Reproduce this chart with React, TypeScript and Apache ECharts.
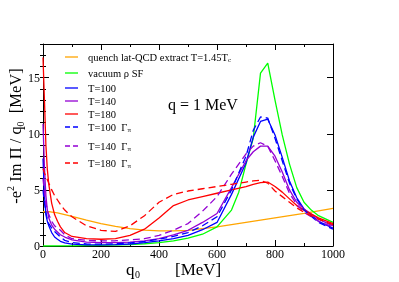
import React, { useEffect, useRef } from "react";
import * as echarts from "echarts";

const FONT = "Liberation Serif";

// q0 grid (MeV) for the medium curves
const qGrid = [0, 5, 10, 15, 20, 30, 40, 50, 60, 75, 100, 150, 200, 250, 300, 350, 400, 450, 500, 550, 600, 650, 700, 725, 750, 775, 800, 825, 850, 875, 900, 950, 1000];

const t100 = [7.8, 4.5, 2.8, 2.2, 1.8, 1.2, 0.8, 0.6, 0.42, 0.28, 0.16, 0.1, 0.1, 0.12, 0.18, 0.3, 0.45, 0.65, 0.95, 1.45, 2.1, 4.6, 7.4, 9.7, 11.1, 11.3, 9.9, 7.9, 5.8, 4.3, 3.3, 2.2, 1.6];
const t140 = [10.9, 7.0, 4.5, 3.2, 2.5, 1.85, 1.5, 1.25, 1.0, 0.8, 0.55, 0.35, 0.3, 0.3, 0.35, 0.45, 0.65, 1.0, 1.4, 2.1, 2.9, 5.2, 7.6, 8.4, 8.9, 8.9, 8.0, 6.6, 5.0, 3.9, 3.3, 2.4, 1.8];
const t180 = [16.8, 13.0, 9.0, 6.8, 5.5, 3.8, 2.8, 2.2, 1.7, 1.2, 0.85, 0.65, 0.6, 0.65, 0.95, 1.5, 2.5, 3.6, 4.1, 4.4, 4.7, 5.0, 5.3, 5.5, 5.65, 5.7, 5.3, 4.8, 4.2, 3.6, 3.2, 2.5, 2.0];
const t100G = [5.0, 3.8, 3.0, 2.4, 2.0, 1.6, 1.3, 1.05, 0.8, 0.5, 0.3, 0.18, 0.16, 0.2, 0.28, 0.4, 0.6, 0.85, 1.2, 1.8, 2.6, 5.0, 8.0, 10.3, 11.5, 11.4, 9.6, 7.6, 5.6, 4.2, 3.2, 2.1, 1.5];
const t140G = [6.0, 4.8, 3.8, 3.2, 2.8, 2.2, 1.8, 1.6, 1.4, 1.0, 0.65, 0.5, 0.45, 0.47, 0.55, 0.65, 0.95, 1.4, 2.0, 3.1, 4.4, 6.4, 8.2, 8.9, 9.2, 8.9, 7.6, 6.2, 4.7, 3.7, 3.0, 2.2, 1.7];
const t180G = [6.9, 6.5, 6.2, 5.9, 5.6, 5.0, 4.5, 4.1, 3.7, 3.2, 2.6, 1.8, 1.4, 1.3, 1.8, 2.7, 3.9, 4.6, 4.9, 5.1, 5.3, 5.5, 5.7, 5.8, 5.85, 5.6, 4.9, 4.4, 3.9, 3.4, 3.0, 2.4, 1.9];

const latX = [0, 25, 50, 100, 150, 200, 250, 300, 350, 400, 450, 500, 600, 700, 800, 900, 1000];
const latY = [3.05, 3.05, 2.95, 2.65, 2.3, 2.0, 1.75, 1.55, 1.42, 1.35, 1.35, 1.4, 1.7, 2.1, 2.5, 2.9, 3.35];

const vacX = [0, 100, 200, 300, 350, 400, 450, 500, 550, 600, 650, 675, 700, 725, 750, 775, 800, 825, 850, 875, 900, 925, 950, 1000];
const vacY = [0, 0.02, 0.05, 0.12, 0.2, 0.3, 0.45, 0.7, 1.05, 1.7, 3.2, 4.8, 7.3, 9.6, 15.4, 16.3, 13.0, 9.9, 7.3, 5.2, 3.9, 3.2, 2.7, 2.1];

const xTicks = { min: 0, max: 1000, interval: 200 };
const yTicks = { min: 0, max: 18, interval: 5, minorInterval: 1 };

const legendLabels = [
  "quench lat-QCD extract T=1.45T{sub|c}",
  "vacuum ρ SF",
  "T=100",
  "T=140",
  "T=180",
  "T=100  Γ{sub|π}",
  "T=140  Γ{sub|π}",
  "T=180  Γ{sub|π}",
];
const seriesNames = [
  "quench lat-QCD extract T=1.45Tc",
  "vacuum ρ SF",
  "T=100",
  "T=140",
  "T=180",
  "T=100 Γπ",
  "T=140 Γπ",
  "T=180 Γπ",
];
const legendY = [57, 73, 88, 101, 114, 127, 146, 163];

const ORANGE = "#FFA500";
const GREEN = "#00FF00";
const BLUE = "#0000FF";
const VIOLET = "#9400D3";
const RED = "#FF0000";

function zip(xs: number[], ys: number[]) {
  return xs.map((x, i) => [x, ys[i]]);
}

export default function App() {
  const ref = useRef<HTMLDivElement>(null);
  useEffect(() => {
    if (!ref.current) return;
    const chart = echarts.init(ref.current, undefined, { renderer: "svg" });
    const lw = 1.3;
    const DASH = [7, 4];
    const colors = [ORANGE, GREEN, BLUE, VIOLET, RED, BLUE, VIOLET, RED];
    const dashed = [false, false, false, false, false, true, true, true];
    const dataSets = [
      zip(latX, latY),
      zip(vacX, vacY),
      zip(qGrid, t100),
      zip(qGrid, t140),
      zip(qGrid, t180),
      zip(qGrid, t100G),
      zip(qGrid, t140G),
      zip(qGrid, t180G),
    ];
    const series = dataSets.map((data, i) => ({
      type: "line",
      name: seriesNames[i],
      data,
      xAxisIndex: 0,
      yAxisIndex: 0,
      showSymbol: false,
      symbol: "none",
      lineStyle: { color: colors[i], width: lw, type: dashed[i] ? DASH : "solid" },
      itemStyle: { color: colors[i] },
      z: 2,
    }));
    const legendGraphics: any[] = [];
    legendLabels.forEach((lab, i) => {
      const y = legendY[i];
      legendGraphics.push({
        type: "line",
        shape: { x1: 65, y1: y, x2: 78, y2: y },
        style: { stroke: colors[i], lineWidth: lw, lineDash: dashed[i] ? [5, 3] : null },
        z: 10,
      });
      legendGraphics.push({
        type: "text",
        x: 88,
        y,
        style: {
          text: lab,
          fontFamily: FONT,
          fontSize: 10.5,
          fill: "#000",
          verticalAlign: "middle",
          align: "left",
          rich: {
            sub: { fontFamily: FONT, fontSize: 7, fill: "#000", verticalAlign: "bottom", padding: [5, 0, 0, 0] },
          },
        },
        z: 10,
      });
    });
    const axisLine = { show: true, onZero: false, lineStyle: { color: "#000", width: 1 } };
    const yMinor = (pos: string) => ({
      type: "value",
      position: pos,
      min: yTicks.min,
      max: yTicks.max,
      interval: yTicks.minorInterval,
      axisLine: { show: false },
      axisTick: { show: true, inside: true, length: 3, lineStyle: { color: "#000" } },
      axisLabel: { show: false },
      splitLine: { show: false },
    });
    chart.setOption({
      animation: false,
      textStyle: { fontFamily: FONT },
      grid: { left: 43, top: 44, width: 290, height: 202, containLabel: false },
      xAxis: [
        {
          type: "value",
          position: "bottom",
          ...xTicks,
          axisLine,
          axisTick: { show: true, inside: true, length: 6, lineStyle: { color: "#000" } },
          minorTick: { show: true, splitNumber: 2, length: 3, lineStyle: { color: "#000" } },
          axisLabel: {
            show: true,
            fontFamily: FONT,
            fontSize: 12,
            color: "#000",
            margin: 2,
            formatter: (v: number) => String(v),
          },
          splitLine: { show: false },
          minorSplitLine: { show: false },
        },
        {
          type: "value",
          position: "top",
          ...xTicks,
          axisLine,
          axisTick: { show: true, inside: true, length: 6, lineStyle: { color: "#000" } },
          minorTick: { show: true, splitNumber: 2, length: 3, lineStyle: { color: "#000" } },
          axisLabel: { show: false },
          splitLine: { show: false },
        },
      ],
      yAxis: [
        {
          type: "value",
          position: "left",
          min: yTicks.min,
          max: yTicks.max,
          interval: yTicks.interval,
          axisLine,
          axisTick: { show: true, inside: true, length: 6, lineStyle: { color: "#000" } },
          axisLabel: { show: true, fontFamily: FONT, fontSize: 12, color: "#000", margin: 3, showMaxLabel: false },
          splitLine: { show: false },
        },
        {
          type: "value",
          position: "right",
          min: yTicks.min,
          max: yTicks.max,
          interval: yTicks.interval,
          axisLine,
          axisTick: { show: true, inside: true, length: 6, lineStyle: { color: "#000" } },
          axisLabel: { show: false },
          splitLine: { show: false },
        },
        yMinor("left"),
        yMinor("right"),
      ],
      series,
      graphic: [
        ...legendGraphics,
        {
          type: "text",
          x: 168,
          y: 104,
          style: { text: "q = 1 MeV", fontFamily: FONT, fontSize: 16, fill: "#000", verticalAlign: "middle" },
          z: 10,
        },
        {
          type: "text",
          x: 126,
          y: 269,
          style: { text: "q", fontFamily: FONT, fontSize: 17, fill: "#000", verticalAlign: "middle", align: "left" },
          z: 10,
        },
        {
          type: "text",
          x: 135,
          y: 274,
          style: { text: "0", fontFamily: FONT, fontSize: 10, fill: "#000", verticalAlign: "middle", align: "left" },
          z: 10,
        },
        {
          type: "text",
          x: 175,
          y: 269,
          style: { text: "[MeV]", fontFamily: FONT, fontSize: 17, fill: "#000", verticalAlign: "middle", align: "left" },
          z: 10,
        },
        {
          type: "text",
          x: 15,
          y: 136,
          rotation: Math.PI / 2,
          style: {
            text: "{n|-e}{p|2}{n| Im Π / q}{s|0}{n|  [MeV]}",
            verticalAlign: "middle",
            align: "center",
            fill: "#000",
            rich: {
              n: { fontFamily: FONT, fontSize: 16.5, fill: "#000", lineHeight: 20 },
              p: { fontFamily: FONT, fontSize: 10, fill: "#000", verticalAlign: "top", padding: [0, 0, 8, 0] },
              s: { fontFamily: FONT, fontSize: 10, fill: "#000", verticalAlign: "bottom", padding: [6, 0, 0, 0] },
            },
          },
          z: 10,
        },
      ],
    });
    return () => chart.dispose();
  }, []);
  return <div ref={ref} style={{ position: "fixed", left: 0, top: 0, width: 399, height: 282 }} />;
}
